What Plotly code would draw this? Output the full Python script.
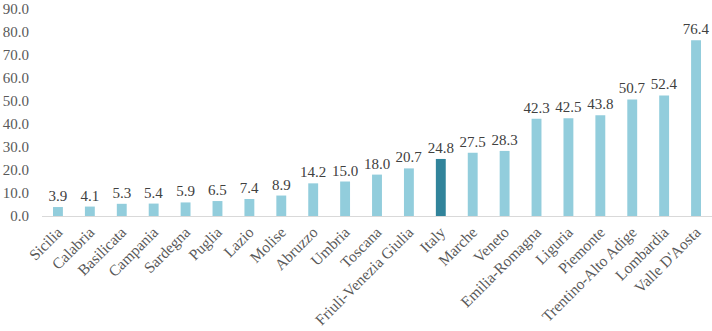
import plotly.graph_objects as go

regions = ["Sicilia", "Calabria", "Basilicata", "Campania", "Sardegna", "Puglia", "Lazio",
           "Molise", "Abruzzo", "Umbria", "Toscana", "Friuli-Venezia Giulia", "Italy", "Marche",
           "Veneto", "Emilia-Romagna", "Liguria", "Piemonte", "Trentino-Alto Adige", "Lombardia",
           "Valle D'Aosta"]
values = [3.9, 4.1, 5.3, 5.4, 5.9, 6.5, 7.4, 8.9, 14.2, 15.0, 18.0, 20.7, 24.8, 27.5, 28.3,
          42.3, 42.5, 43.8, 50.7, 52.4, 76.4]
y_ticks = [0, 10, 20, 30, 40, 50, 60, 70, 80, 90]

colors = ["#31849B" if r == "Italy" else "#92CDDC" for r in regions]

FONT = "Liberation Serif"

fig = go.Figure(go.Bar(
    x=regions, y=values, marker_color=colors, marker_line_width=0,
    text=[f"{v:.1f}" for v in values], textposition="outside", cliponaxis=False,
    constraintext="none", textangle=0,
    textfont=dict(family=FONT, size=15, color="#404040"),
))

fig.update_layout(
    width=712, height=331,
    margin=dict(l=42, r=0, t=9, b=115),
    plot_bgcolor="white", paper_bgcolor="white",
    bargap=0.69, showlegend=False,
    font=dict(family=FONT, size=15, color="#595959"),
)
fig.update_xaxes(tickangle=-45, showline=True, linecolor="#D9D9D9", linewidth=1,
                 ticks="", automargin=False, ticklabeloverflow="allow",
                 tickfont=dict(family=FONT, size=15.5, color="#595959"))
fig.update_yaxes(range=[0, 90], tickvals=y_ticks, ticktext=[f"{t:.1f}" for t in y_ticks],
                 showgrid=False, zeroline=False, ticks="", ticklabelstandoff=12, automargin=False,
                 ticklabeloverflow="allow",
                 tickfont=dict(family=FONT, size=15, color="#595959"))

fig.write_html("out.html", config={"displayModeBar": False},
               post_script="document.body.style.margin='0';document.body.style.overflow='hidden';")
